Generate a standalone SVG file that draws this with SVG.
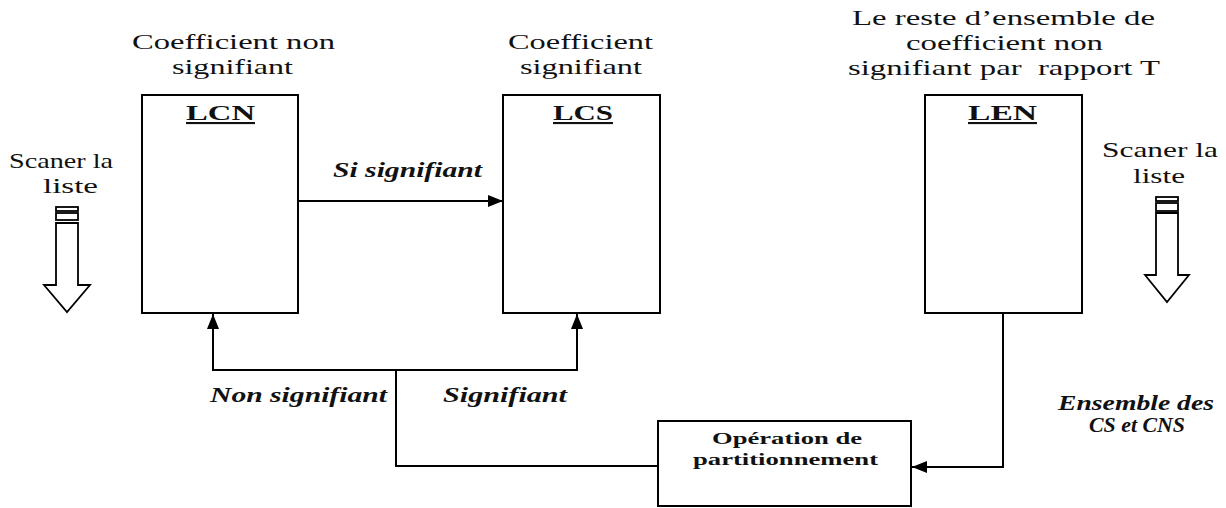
<svg xmlns="http://www.w3.org/2000/svg" width="1226" height="508" viewBox="0 0 1226 508">
<defs>
<style>
.t{font-family:"Liberation Serif","Times New Roman",serif;font-size:21px;fill:#111}
.b{font-weight:bold}
.bi{font-weight:bold;font-style:italic}
.u{text-decoration:underline}
.box{fill:#fff;stroke:#000;stroke-width:2}
.ln{fill:none;stroke:#000;stroke-width:2}
.hol{fill:#fff;stroke:#000;stroke-width:1.8}
</style>
<marker id="ah" viewBox="0 0 15 12" refX="15" refY="6" markerWidth="15" markerHeight="12" markerUnits="userSpaceOnUse" orient="auto">
<path d="M0,0 L15,6 L0,12 Z" fill="#000"/>
</marker>
</defs>
<rect width="1226" height="508" fill="#fff"/>

<g id="connectors">
<line class="ln" x1="298" y1="201" x2="503" y2="201" marker-end="url(#ah)"/>
<polyline class="ln" points="658,466 396,466 396,370"/>
<polyline class="ln" points="396,370 213,370 213,314" marker-end="url(#ah)"/>
<polyline class="ln" points="396,370 577,370 577,314" marker-end="url(#ah)"/>
<polyline class="ln" points="1003,314 1003,467 912,467" marker-end="url(#ah)"/>
</g>

<g id="lcn">
<text class="t" x="132" y="49" textLength="203" lengthAdjust="spacingAndGlyphs">Coefficient non</text>
<text class="t" x="172" y="74" textLength="121" lengthAdjust="spacingAndGlyphs">signifiant</text>
<rect class="box" x="142" y="95" width="156" height="218"/>
<text class="t b u" x="186" y="120" textLength="69" lengthAdjust="spacingAndGlyphs">LCN</text>
</g>

<g id="lcs">
<text class="t" x="508" y="49" textLength="145" lengthAdjust="spacingAndGlyphs">Coefficient</text>
<text class="t" x="520" y="74" textLength="122" lengthAdjust="spacingAndGlyphs">signifiant</text>
<rect class="box" x="503" y="95" width="157" height="218"/>
<text class="t b u" x="553" y="120" textLength="60" lengthAdjust="spacingAndGlyphs">LCS</text>
</g>

<g id="len">
<text class="t" x="852" y="25" textLength="303" lengthAdjust="spacingAndGlyphs">Le reste d’ensemble de</text>
<text class="t" x="906" y="50" textLength="197" lengthAdjust="spacingAndGlyphs">coefficient non</text>
<text class="t" x="848" y="75" textLength="312" lengthAdjust="spacingAndGlyphs" xml:space="preserve">signifiant par  rapport T</text>
<rect class="box" x="925" y="95" width="157" height="218"/>
<text class="t b u" x="968" y="120" textLength="69" lengthAdjust="spacingAndGlyphs">LEN</text>
</g>

<g id="partition">
<rect class="box" x="658" y="421" width="253" height="85"/>
<text class="t b" style="font-size:17px" x="712" y="444" textLength="150" lengthAdjust="spacingAndGlyphs">Opération de</text>
<text class="t b" style="font-size:17px" x="693" y="465" textLength="185" lengthAdjust="spacingAndGlyphs">partitionnement</text>
</g>

<g id="labels">
<text class="t bi" x="333" y="177" textLength="149" lengthAdjust="spacingAndGlyphs">Si signifiant</text>
<text class="t bi" x="210" y="402" textLength="177" lengthAdjust="spacingAndGlyphs">Non signifiant</text>
<text class="t bi" x="443" y="402" textLength="124" lengthAdjust="spacingAndGlyphs">Signifiant</text>
<text class="t bi" style="font-size:20px" x="1058" y="410" textLength="156" lengthAdjust="spacingAndGlyphs">Ensemble des</text>
<text class="t bi" style="font-size:20px" x="1089" y="432" textLength="96" lengthAdjust="spacingAndGlyphs">CS et CNS</text>
</g>

<g id="scan-left">
<text class="t" x="9" y="168" textLength="104" lengthAdjust="spacingAndGlyphs">Scaner la</text>
<text class="t" x="43" y="193" textLength="55" lengthAdjust="spacingAndGlyphs">liste</text>
<rect class="hol" x="56" y="207" width="22" height="4"/>
<rect class="hol" x="56" y="213" width="22" height="7"/>
<polygon class="hol" points="56,223 78,223 78,285 90,285 67,312 44,285 56,285"/>
</g>

<g id="scan-right">
<text class="t" x="1102" y="157" textLength="116" lengthAdjust="spacingAndGlyphs">Scaner la</text>
<text class="t" x="1133" y="183" textLength="52" lengthAdjust="spacingAndGlyphs">liste</text>
<rect class="hol" x="1156" y="197" width="22" height="4"/>
<rect class="hol" x="1156" y="203" width="22" height="8"/>
<polygon class="hol" points="1156,213 1178,213 1178,275 1189,275 1167,302 1145,275 1156,275"/>
</g>
</svg>
